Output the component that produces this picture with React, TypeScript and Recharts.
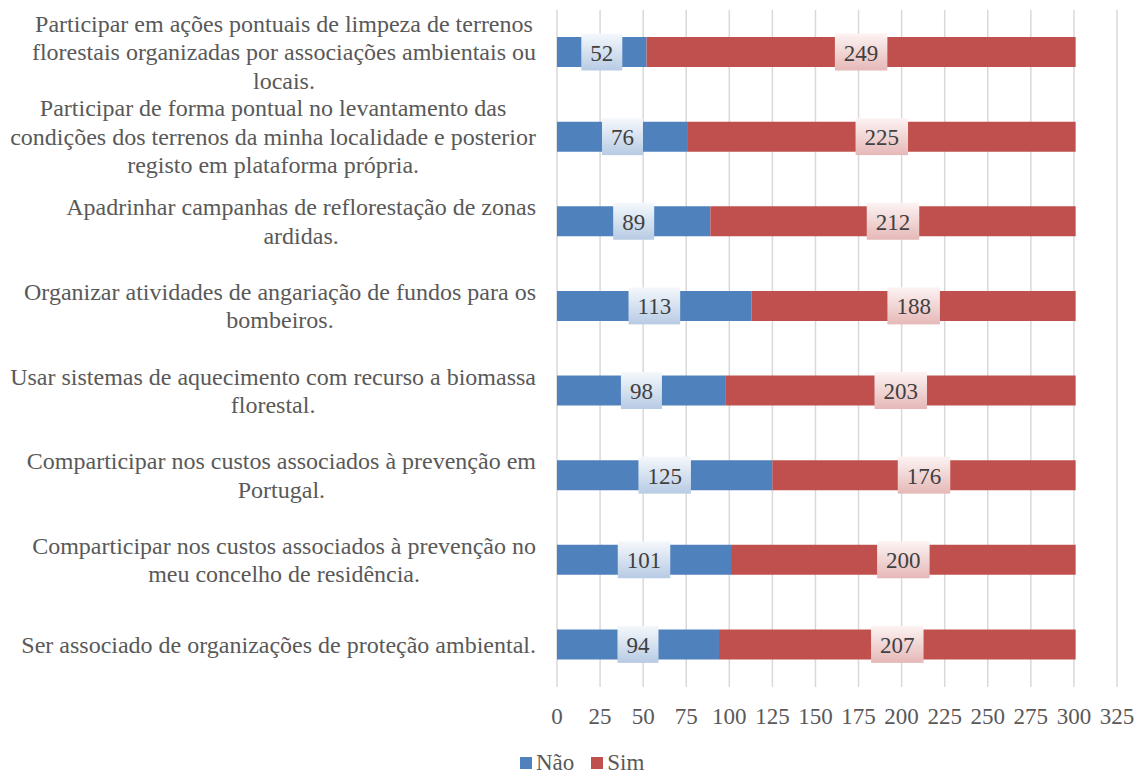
import React from 'react';
import { BarChart, Bar, XAxis, YAxis, CartesianGrid, LabelList, Legend } from 'recharts';

const categories = [
  'Participar em ações pontuais de limpeza de terrenos\nflorestais organizadas por associações ambientais ou\nlocais.',
  'Participar de forma pontual no levantamento das\ncondições dos terrenos da minha localidade e posterior\nregisto em plataforma própria.',
  'Apadrinhar campanhas de reflorestação de zonas\nardidas.',
  'Organizar atividades de angariação de fundos para os\nbombeiros.',
  'Usar sistemas de aquecimento com recurso a biomassa\nflorestal.',
  'Comparticipar nos custos associados à prevenção em\nPortugal.',
  'Comparticipar nos custos associados à prevenção no\nmeu concelho de residência.',
  'Ser associado de organizações de proteção ambiental.',
];
const naoValues = [52, 76, 89, 113, 98, 125, 101, 94];
const simValues = [249, 225, 212, 188, 203, 176, 200, 207];
const xTicks = [0, 25, 50, 75, 100, 125, 150, 175, 200, 225, 250, 275, 300, 325];
const seriesNames = ['Não', 'Sim'];

const data = categories.map((name, i) => ({ name, nao: naoValues[i], sim: simValues[i] }));

const FONT = '"Liberation Serif", "Times New Roman", serif';
const BLUE = '#4F81BD';
const RED = '#C0504D';
const CAT_SIZE = 24;
const NUM_SIZE = 23;

let ctx: CanvasRenderingContext2D | null = null;
function measure(text: string, size: number): number {
  if (!ctx) ctx = document.createElement('canvas').getContext('2d');
  if (!ctx) return text.length * size * 0.45;
  ctx.font = `${size}px "Liberation Serif"`;
  return ctx.measureText(text).width;
}

const YTick = (props: any) => {
  const { x, y, payload } = props;
  const lines: string[] = String(payload.value).split('\n');
  const maxW = Math.max(...lines.map((l) => measure(l, CAT_SIZE)));
  const cx = x - maxW / 2;
  const lineH = 28.5;
  const startY = y - ((lines.length - 1) * lineH) / 2;
  return (
    <g>
      {lines.map((l, i) => (
        <text
          key={i}
          x={cx}
          y={startY + i * lineH}
          textAnchor="middle"
          dominantBaseline="central"
          fill="#595959"
          fontFamily={FONT}
          fontSize={CAT_SIZE}
        >
          {l}
        </text>
      ))}
    </g>
  );
};

const makeLabel = (kind: 'nao' | 'sim') => (props: any) => {
  const { x, y, width, height, value, index } = props;
  const cx = Number(x) + Number(width) / 2;
  const cy = Number(y) + Number(height) / 2;
  const w = measure(String(value), NUM_SIZE) + 18;
  const h = 37;
  const id = `grad-${kind}-${index}`;
  const top = kind === 'nao' ? '#f5f8fc' : '#fdf3f3';
  const bottom = kind === 'nao' ? '#b7cbe4' : '#e5b8b7';
  return (
    <g>
      <defs>
        <linearGradient id={id} x1="0" y1="0" x2="0" y2="1">
          <stop offset="0%" stopColor={top} />
          <stop offset="100%" stopColor={bottom} />
        </linearGradient>
      </defs>
      <rect x={cx - w / 2} y={cy - h / 2} width={w} height={h} fill={`url(#${id})`} />
      <text
        x={cx}
        y={cy + 1}
        textAnchor="middle"
        dominantBaseline="central"
        fill="#404040"
        fontFamily={FONT}
        fontSize={NUM_SIZE}
      >
        {value}
      </text>
    </g>
  );
};

const LegendContent = () => (
  <div style={{ display: 'flex', alignItems: 'center', fontFamily: FONT, fontSize: 23, color: '#595959', lineHeight: '22px', height: 22 }}>
    {seriesNames.map((n, i) => (
      <div key={n} style={{ display: 'flex', alignItems: 'center', marginRight: 17 }}>
        <span style={{ display: 'inline-block', width: 12, height: 12, background: i === 0 ? BLUE : RED, marginRight: 4 }} />
        <span>{n}</span>
      </div>
    ))}
  </div>
);

export default function App() {
  return (
    <div style={{ position: 'absolute', left: 0, top: 0, width: 1138, height: 776, background: '#fff' }}>
      <BarChart
        width={1138}
        height={776}
        data={data}
        layout="vertical"
        margin={{ top: 10, right: 21, bottom: 17, left: 0 }}
      >
        <CartesianGrid horizontal={false} vertical={true} stroke="#d9d9d9" strokeWidth={1.5} />
        <XAxis
          type="number"
          domain={[0, 325]}
          ticks={xTicks}
          interval={0}
          axisLine={false}
          tickLine={false}
          tickMargin={15}
          height={50}
          tick={{ fill: '#595959', fontFamily: FONT, fontSize: NUM_SIZE }}
        />
        <YAxis
          type="category"
          dataKey="name"
          width={557}
          axisLine={false}
          tickLine={false}
          tickSize={0}
          tickMargin={21}
          interval={0}
          tick={<YTick />}
        />
        <Legend
          content={<LegendContent />}
          wrapperStyle={{ position: 'absolute', left: 520, top: 752, width: 160, height: 22 }}
        />
        <Bar dataKey="nao" name="Não" stackId="a" fill={BLUE} barSize={30} isAnimationActive={false}>
          <LabelList dataKey="nao" content={makeLabel('nao')} />
        </Bar>
        <Bar dataKey="sim" name="Sim" stackId="a" fill={RED} barSize={30} isAnimationActive={false}>
          <LabelList dataKey="sim" content={makeLabel('sim')} />
        </Bar>
      </BarChart>
    </div>
  );
}
